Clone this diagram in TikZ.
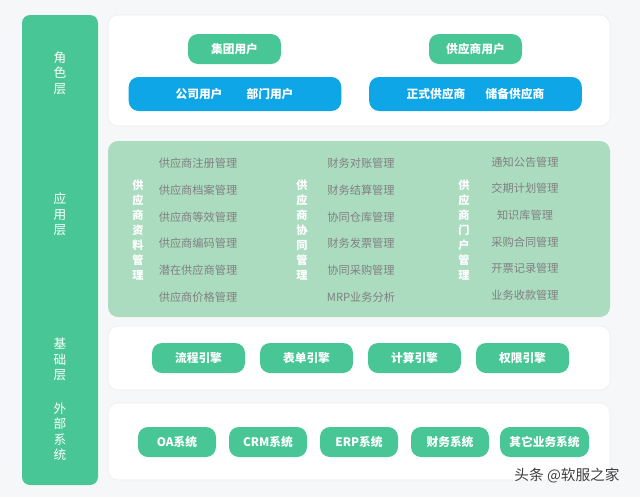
\documentclass[tikz,border=0pt]{standalone}
\usepackage{fontspec}
\setmainfont{Noto Sans CJK SC}
\definecolor{layergreen}{RGB}{72,198,150}
\definecolor{userblue}{RGB}{14,166,230}
\definecolor{appgreen}{RGB}{171,220,192}
\definecolor{pagebg}{RGB}{246,247,248}
\definecolor{itemgray}{RGB}{128,128,128}
\tikzset{
  panel/.style={fill=white, draw=black!7, rounded corners=7.5pt},
  layerlabel/.style={text=white, align=center, font=\fontsize{9.5}{11.6}\selectfont},
  grouplabel/.style={text=white, align=center, font=\bfseries\fontsize{8.4}{11.25}\selectfont},
  item/.style={text=itemgray, font=\fontsize{8.4}{10}\selectfont},
  btn/.style={fill=layergreen, rounded corners=7.5pt, text=white, inner sep=0pt,
    minimum height=22.5pt, font=\bfseries\fontsize{8.8}{10}\selectfont},
  bar/.style={fill=userblue, rounded corners=7.5pt, inner sep=0pt,
    minimum width=159.5pt, minimum height=25.5pt},
  bartext/.style={text=white, font=\bfseries\fontsize{8.8}{10}\selectfont}
}
\begin{document}
\begin{tikzpicture}[x=0.75pt, y=-0.75pt]
  \useasboundingbox[fill=pagebg] (0,0) rectangle (640,497);

  % layer column
  \fill[layergreen, rounded corners=6pt] (22,15) rectangle (98,485);
  \node[layerlabel] (role) at (60,73) {角\\色\\层};
  \node[layerlabel] (app) at (60,214.5) {应\\用\\层};
  \node[layerlabel] (base) at (60,359.5) {基\\础\\层};
  \node[layerlabel] (ext) at (60,431.5) {外\\部\\系\\统};

  % role layer
  \draw[panel] (108,15) rectangle (610,126);
  \node[btn, minimum width=69.75pt] (group) at (234.5,49) {集团用户};
  \node[btn, minimum width=69.75pt] (supplier) at (475.5,49) {供应商用户};
  \node[bar] (bar1) at (235,94) {};
  \node[bar] (bar2) at (475.5,94) {};
  \node[bartext] (company) at (199,94) {公司用户};
  \node[bartext] (dept) at (270,94) {部门用户};
  \node[bartext] (formal) at (436,94) {正式供应商};
  \node[bartext] (reserve) at (515,94) {储备供应商};

  % application layer
  \fill[appgreen, rounded corners=7.5pt] (108,141) rectangle (610,317);
  \node[grouplabel] (data) at (138,230) {供\\应\\商\\资\\料\\管\\理};
  \node[grouplabel] (coop) at (302,230) {供\\应\\商\\协\\同\\管\\理};
  \node[grouplabel] (portal) at (464,230) {供\\应\\商\\门\\户\\管\\理};
  \foreach \t [count=\i] in {供应商注册管理,供应商档案管理,供应商等效管理,供应商编码管理,潜在供应商管理,供应商价格管理}
    \node[item] (data\i) at (198,136.5+26.8*\i) {\t};
  \foreach \t [count=\i] in {财务对账管理,财务结算管理,协同仓库管理,财务发票管理,协同采购管理,MRP业务分析}
    \node[item] (coop\i) at (361,136.5+26.8*\i) {\t};
  \foreach \t [count=\i] in {通知公告管理,交期计划管理,知识库管理,采购合同管理,开票记录管理,业务收款管理}
    \node[item] (portal\i) at (525,135.5+26.6*\i) {\t};

  % base layer
  \draw[panel] (108,326) rectangle (610,390);
  \foreach \t/\x [count=\i] in {流程引擎/198.5,表单引擎/306.5,计算引擎/414.5,权限引擎/522.5}
    \node[btn, minimum width=69.75pt] (engine\i) at (\x,358) {\t};

  % external systems
  \draw[panel] (108,403) rectangle (610,480);
  \foreach \t/\x [count=\i] in {OA系统/177,CRM系统/268,ERP系统/359,财务系统/450}
    \node[btn, minimum width=58.5pt] (sys\i) at (\x,442) {\t};
  \node[btn, minimum width=66.75pt] (sys5) at (544.5,442) {其它业务系统};

  \node[text=black!75, font=\fontsize{11}{12}\selectfont] (mark) at (567,476) {头条 @软服之家};
\end{tikzpicture}
\end{document}
